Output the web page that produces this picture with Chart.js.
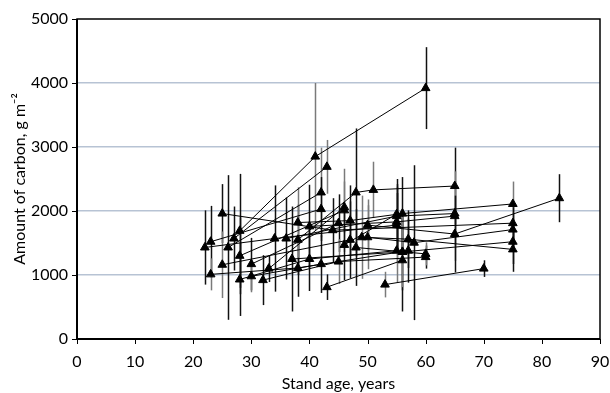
<!DOCTYPE html>
<html>
<head>
<meta charset="utf-8">
<script src="https://cdn.jsdelivr.net/npm/chart.js@4.4.0/dist/chart.umd.min.js"></script>
<style>
  html, body { margin: 0; padding: 0; background: #fff; }
  #wrap { width: 610px; height: 393px; }
</style>
</head>
<body>
<div id="wrap"><canvas id="c" width="610" height="393"></canvas></div>
<script>
// Each stand is a polyline of repeated measurements (stand id, age, carbon, half error bar)
const stand  = [1,1,1, 2,2, 3,3,3,3, 4,4, 5,5,5, 6,6,6, 7,7, 8,8,8, 9,9, 10,10, 11,11,11, 12,12, 13,13, 14,14,14, 15,15, 16,16,16, 17,17, 18,18,18,18, 19,19,19, 20,20, 21,21, 22,22, 23,23, 24,24,24, 25,25,25, 26,26,26, 27,27];
const age    = [28,41,60, 27,43, 38,48,51,65, 26,42, 25,44,75, 22,34,55, 23,42, 23,38,57, 25,47, 28,46, 28,40,55, 30,45, 30,42, 32,45,60, 33,46, 36,55,65, 37,56, 38,47,56,75, 40,55,65, 43,56, 53,70, 48,60, 46,55, 49,57,75, 50,65,83, 50,58,75, 56,75];
const carbon = [1690,2850,3920, 1570,2690, 1550,2290,2330,2390, 1430,2290, 1960,1700,1810, 1430,1570,1780, 1520,2030, 1010,1110,1380, 1160,1550, 1300,2010, 930,1250,1380, 1170,1810, 980,1170, 920,1210,1280, 1100,2060, 1570,1920,1960, 1250,1360, 1820,1850,1960,2110, 1760,1830,1920, 810,1230, 850,1100, 1430,1330, 1470,1950, 1590,1560,1400, 1780,1640,2200, 1590,1505,1710, 1360,1520];
const errHalf = [890,1150,640, 500,420, 550,1000,440,600, 1130,700, 460,500,350, 580,830,600, 560,500, 250,450,500, 520,600, 600,650, 570,500,500, 410,450, 250,450, 390,350,180, 210,400, 640,500,500, 820,600, 550,550,570,350, 650,450,700, 200,800, 200,130, 600,180, 550,550, 650,450,350, 400,600,375, 500,1210,350, 550,350];

const xTicks = [0,10,20,30,40,50,60,70,80,90];
const yTicks = [0,1000,2000,3000,4000,5000];

const FONT = 'Lato, "Open Sans", sans-serif';

const ids = [...new Set(stand)];
const datasets = ids.map(id => {
  const pts = [];
  stand.forEach((s, i) => { if (s === id) pts.push({x: age[i], y: carbon[i]}); });
  return {
    data: pts, showLine: true, borderColor: '#000', borderWidth: 1,
    pointStyle: 'triangle', pointRadius: 5, pointHoverRadius: 5,
    pointBackgroundColor: '#000', pointBorderColor: '#000', pointBorderWidth: 1
  };
});

const errPlugin = {
  id: 'errbars',
  beforeDatasetsDraw(chart) {
    const {ctx, scales: {x, y}} = chart;
    ctx.save();
    age.forEach((a, i) => {
      const px = Math.round(x.getPixelForValue(a)) + 0.5;
      const t = y.getPixelForValue(carbon[i] + errHalf[i]);
      const b = y.getPixelForValue(Math.max(0, carbon[i] - errHalf[i]));
      ctx.strokeStyle = (i % 3 === 1) ? '#7a7a7a' : '#111';
      ctx.lineWidth = 1.5;
      ctx.beginPath(); ctx.moveTo(px, t); ctx.lineTo(px, b); ctx.stroke();
    });
    ctx.restore();
  },
  afterDraw(chart) {
    const {ctx, chartArea: a, scales: {x, y}} = chart;
    ctx.save();
    ctx.strokeStyle = '#000';
    ctx.lineWidth = 1.5;
    ctx.strokeRect(a.left, a.top, a.right - a.left, a.bottom - a.top);
    ctx.lineWidth = 2;
    ctx.beginPath();
    ctx.moveTo(a.left, a.top); ctx.lineTo(a.left, a.bottom); ctx.lineTo(a.right, a.bottom);
    ctx.stroke();
    ctx.lineWidth = 1;
    xTicks.forEach(v => {
      const px = Math.round(x.getPixelForValue(v)) + 0.5;
      ctx.beginPath(); ctx.moveTo(px, a.bottom); ctx.lineTo(px, a.bottom + 5); ctx.stroke();
    });
    yTicks.forEach(v => {
      const py = Math.round(y.getPixelForValue(v)) + 0.5;
      ctx.beginPath(); ctx.moveTo(a.left - 5, py); ctx.lineTo(a.left, py); ctx.stroke();
    });
    ctx.restore();
  }
};

new Chart(document.getElementById('c'), {
  type: 'scatter',
  data: { datasets },
  options: {
    responsive: false, animation: false,
    layout: { padding: { left: 0, right: 10, top: 19, bottom: 0 } },
    plugins: { legend: { display: false }, tooltip: { enabled: false } },
    scales: {
      x: {
        type: 'linear', min: 0, max: 90,
        afterBuildTicks(s) { s.ticks = xTicks.map(v => ({value: v})); },
        afterFit(s) { s.height = 54; s.paddingLeft = 0; s.paddingRight = 0; },
        grid: { display: false },
        border: { display: false },
        ticks: { color: '#000', font: { family: FONT, size: 16 }, padding: 5, maxRotation: 0, callback: v => String(v) },
        title: { display: true, text: 'Stand age, years', color: '#000', font: { family: FONT, size: 16 }, padding: { top: 3, bottom: 0 } }
      },
      y: {
        type: 'linear', min: 0, max: 5000,
        afterBuildTicks(s) { s.ticks = yTicks.map(v => ({value: v})); },
        afterFit(s) { s.width = 77; s.paddingTop = 0; s.paddingBottom = 0; },
        grid: { color: c => (c.tick && (c.tick.value === 0 || c.tick.value === 5000)) ? 'rgba(0,0,0,0)' : '#b7c3d4', lineWidth: 1.5, drawTicks: false },
        border: { display: false },
        ticks: { color: '#000', font: { family: FONT, size: 16 }, padding: 9, callback: v => String(v) },
        title: { display: true, text: 'Amount of carbon, g m⁻²', color: '#000', font: { family: FONT, size: 16 }, padding: { top: 10, bottom: 0 } }
      }
    }
  },
  plugins: [errPlugin]
});
</script>
</body>
</html>
